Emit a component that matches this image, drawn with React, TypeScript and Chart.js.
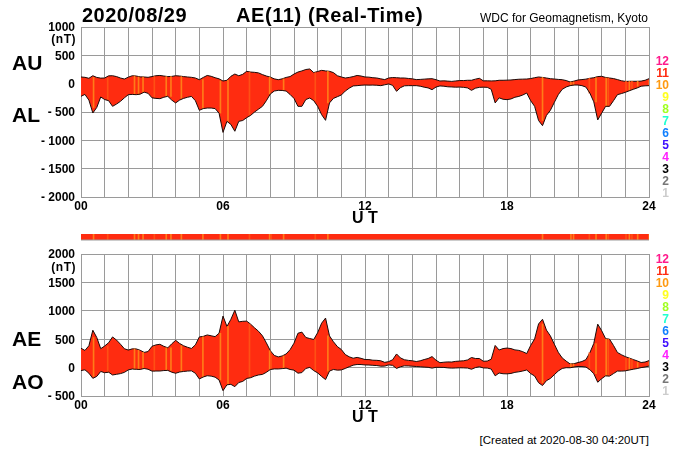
import { useEffect, useRef } from 'react';
import Chart from 'chart.js/auto';

// one value every 10 minutes, 00:00 to 24:00 UT
const AU = [
  118, 112, 95, 140, 110, 98, 100, 138, 140, 125, 100, 82,
  115, 140, 135, 120, 118, 112, 125, 140, 145, 135, 125, 128,
  140, 135, 125, 118, 112, 100, 70, 110, 145, 130, 105, 85,
  47, 60, 130, 170, 140, 165, 218, 205, 200, 190, 160, 135,
  115, 85, 70, 85, 110, 125, 170, 205, 225, 250, 259, 195,
  215, 235, 225, 218, 195, 140, 118, 100, 110, 125, 145, 135,
  118, 115, 105, 100, 85, 72, 100, 108, 105, 100, 100, 92,
  85, 72, 75, 80, 85, 88, 70, 47, 50, 45, 40, 48,
  55, 55, 60, 60, 80, 95, 50, 50, 48, 50, 60, 60,
  62, 65, 72, 78, 80, 82, 90, 105, 118, 110, 100, 88,
  82, 75, 70, 55, 30, 45, 65, 72, 80, 95, 105, 125,
  130, 110, 100, 90, 72, 52, 40, 42, 42, 42, 45, 60,
  88,
];
const AL = [
  -223, -190, -290, -518, -420, -235, -280, -300, -400, -360, -312, -250,
  -194, -190, -194, -185, -150, -170, -250, -260, -265, -240, -223, -290,
  -340, -290, -260, -240, -225, -300, -470, -440, -430, -430, -440, -520,
  -860, -665, -720, -840, -665, -650, -600, -560, -500, -450, -400, -300,
  -182, -130, -118, -120, -130, -190, -260, -400, -400, -280, -253, -300,
  -400, -547, -647, -340, -260, -230, -200, -130, -80, -40, -35, -28,
  -24, -26, -25, -28, -35, -20, -5, -30, -135, -70, -38, -35,
  -35, -35, -45, -62, -75, -106, -60, -40, -45, -55, -58, -62,
  -60, -65, -75, -118, -80, -65, -62, -65, -100, -340, -250, -275,
  -282, -270, -240, -225, -200, -165, -300, -400, -650, -741, -560, -470,
  -330, -194, -100, -59, -35, -24, -24, -35, -60, -165, -320, -640,
  -520, -400, -400, -300, -194, -175, -153, -125, -100, -76, -45, -38,
  -35,
];
const AE = [
  341, 302, 385, 658, 530, 333, 380, 438, 540, 485, 412, 332,
  309, 330, 329, 305, 268, 282, 375, 400, 410, 375, 348, 418,
  480, 425, 385, 358, 337, 400, 540, 550, 575, 560, 545, 605,
  907, 725, 850, 1010, 805, 815, 818, 765, 700, 640, 560, 435,
  297, 215, 188, 205, 240, 315, 430, 605, 625, 530, 512, 495,
  615, 782, 872, 558, 455, 370, 318, 230, 190, 165, 180, 163,
  142, 141, 130, 128, 120, 92, 105, 138, 240, 170, 138, 127,
  120, 107, 120, 142, 160, 194, 130, 87, 95, 100, 98, 110,
  115, 120, 135, 178, 160, 160, 112, 115, 148, 390, 310, 335,
  344, 335, 312, 303, 280, 247, 390, 505, 768, 851, 660, 558,
  412, 269, 170, 114, 65, 69, 89, 107, 140, 260, 425, 765,
  650, 510, 500, 390, 266, 227, 193, 167, 142, 118, 90, 98,
  123,
];
const AO = [
  -52, -39, -98, -189, -155, -68, -90, -81, -130, -118, -106, -84,
  -40, -25, -30, -33, -16, -29, -62, -60, -60, -52, -49, -81,
  -100, -78, -68, -61, -57, -100, -200, -165, -143, -150, -168, -218,
  -406, -303, -295, -335, -263, -243, -191, -178, -150, -130, -120, -83,
  -34, -23, -24, -18, -10, -33, -45, -98, -88, -15, 3, -53,
  -93, -156, -211, -61, -33, -45, -41, -15, 15, 43, 55, 54,
  47, 45, 40, 36, 25, 26, 48, 39, -15, 15, 31, 29,
  25, 19, 15, 9, 5, -9, 5, 4, 3, -5, -9, -7,
  -3, -5, -8, -29, 0, 15, -6, -8, -26, -145, -95, -108,
  -110, -103, -84, -74, -60, -42, -105, -148, -266, -316, -230, -191,
  -124, -60, -15, -2, -3, 11, 21, 19, 10, -35, -108, -258,
  -195, -145, -150, -105, -61, -62, -57, -42, -29, -17, 0, 11,
  27,
];

// minutes where fewer stations reported (hours UT)
const stripeHours = [0.51, 2.24, 2.41, 2.6, 3.58, 3.78, 4.22, 5.13, 5.87, 6.19, 7.95, 8.54, 10.41, 19.48, 20.68, 20.79, 21.74, 22.17, 23.15, 23.5, 23.99];
const faintHours = [1.15, 3.12, 7.14, 8.05, 9.92, 21.5, 22.3, 23.05, 23.3];

const stationLabels = ['12', '11', '10', '9', '8', '7', '6', '5', '4', '3', '2', '1'];
const stationColors = ['#ff1a8c', '#ff2a10', '#ff9a10', '#ffff20', '#a0ff20', '#20ffd0', '#1080ff', '#4010ff', '#ff20ff', '#000000', '#777777', '#cccccc'];

const RED = '#ff2c10';
const ORANGE = '#ff7c18';
const FAINT = '#ff5014';
const GRID = '#9a9a9a';
const FONT = '"Liberation Sans", Arial, sans-serif';

const toPoints = (values: number[]) => values.map((v, i) => ({ x: i / 6, y: v }));

// keep a stripe inside the band drawn between the two 10-minute neighbours
const stripeBars = (hours: number[], upper: number[], lower: number[]) =>
  hours.map((h) => {
    const a = Math.floor(h * 6);
    const b = Math.min(a + 1, upper.length - 1);
    return { x: h, y: [Math.max(lower[a], lower[b]), Math.min(upper[a], upper[b])] };
  });

const stripeDataset = (data: any[], color: string) => ({
  type: 'bar' as const,
  data,
  backgroundColor: color,
  barThickness: 1,
  order: 2,
});

type PanelProps = {
  top: number;
  height: number;
  plotTop: number;
  plotBottom: number;
  upper: number[];
  lower: number[];
  yMin: number;
  yMax: number;
};

const Panel = ({ top, height, plotTop, plotBottom, upper, lower, yMin, yMax }: PanelProps) => {
  const ref = useRef<HTMLCanvasElement>(null);

  useEffect(() => {
    if (!ref.current) return;
    const ctx = ref.current.getContext('2d') as any;
    ctx.letterSpacing = '0.5px'; // tick labels are widely set in the original
    const chart = new Chart(ref.current, {
      type: 'line',
      data: {
        datasets: [
          {
            data: toPoints(upper),
            borderColor: '#1a0a08',
            borderWidth: 1,
            backgroundColor: RED,
            fill: 1,
            pointRadius: 0,
            tension: 0,
            order: 3,
          },
          {
            data: toPoints(lower),
            borderColor: '#1a0a08',
            borderWidth: 1,
            pointRadius: 0,
            tension: 0,
            fill: false,
            order: 1,
          },
          stripeDataset(stripeBars(faintHours, upper, lower), FAINT),
          stripeDataset(stripeBars(stripeHours, upper, lower), ORANGE),
        ] as any,
      },
      options: {
        responsive: false,
        animation: false,
        layout: { padding: { top: plotTop, right: 51, left: 0, bottom: 0 } },
        plugins: { legend: { display: false }, tooltip: { enabled: false } },
        scales: {
          x: {
            type: 'linear',
            min: 0,
            max: 24,
            offset: false,
            afterFit: (s: any) => {
              s.height = height - plotBottom;
            },
            border: { color: GRID },
            grid: { color: GRID, drawTicks: false, offset: false },
            title: {
              display: true,
              text: 'U T',
              color: '#000',
              padding: { top: 0, bottom: 0 },
              font: { family: FONT, size: 16, weight: 'bold' },
            },
            ticks: {
              stepSize: 1,
              autoSkip: false,
              maxRotation: 0,
              padding: 2,
              color: '#000',
              font: { family: FONT, size: 12, weight: 'bold' },
              callback: (v: any) => (v % 6 === 0 ? String(v).padStart(2, '0') : ''),
            },
          },
          y: {
            min: yMin,
            max: yMax,
            afterFit: (s: any) => {
              s.width = 81;
            },
            border: { color: GRID },
            grid: { color: GRID, drawTicks: false },
            ticks: {
              stepSize: 500,
              autoSkip: false,
              padding: 6,
              labelOffset: 1,
              color: '#000',
              font: { family: FONT, size: 12, weight: 'bold' },
              callback: (v: any) => (v < 0 ? `- ${-v}` : String(v)),
            },
          },
        },
      },
    });
    return () => chart.destroy();
  }, []);

  return <canvas ref={ref} width={700} height={height} style={{ position: 'absolute', left: 0, top, width: 700, height }} />;
};

const StationStrip = () => {
  const ref = useRef<HTMLCanvasElement>(null);

  useEffect(() => {
    if (!ref.current) return;
    const span = (y: number) => [{ x: 0, y }, { x: 24, y }];
    const bars = (hours: number[]) => hours.map((h) => ({ x: h, y: [0, 1] }));
    const chart = new Chart(ref.current, {
      type: 'line',
      data: {
        datasets: [
          { data: span(1), borderWidth: 0, backgroundColor: RED, fill: 'origin', pointRadius: 0, order: 3 },
          { data: span(0), borderColor: GRID, borderWidth: 1, pointRadius: 0, fill: false, clip: false, order: 1 },
          stripeDataset(bars(faintHours), FAINT),
          stripeDataset(bars(stripeHours), ORANGE),
        ] as any,
      },
      options: {
        responsive: false,
        animation: false,
        layout: { padding: { top: 4, right: 51, left: 81, bottom: 5 } },
        plugins: { legend: { display: false }, tooltip: { enabled: false } },
        scales: {
          x: { type: 'linear', min: 0, max: 24, offset: false, display: false },
          y: { min: 0, max: 1, display: false },
        },
      },
    });
    return () => chart.destroy();
  }, []);

  return <canvas ref={ref} width={700} height={15} style={{ position: 'absolute', left: 0, top: 230, width: 700, height: 15 }} />;
};

const Label = ({ x, y, size, text, right, weight = 'bold', color = '#000', spacing = 0 }: any) => (
  <div
    style={{
      position: 'absolute',
      top: y - size,
      height: size * 2,
      lineHeight: `${size * 2}px`,
      left: right ? undefined : x,
      right: right ? 700 - x : undefined,
      fontFamily: FONT,
      fontSize: size,
      fontWeight: weight,
      color,
      letterSpacing: spacing,
      whiteSpace: 'pre',
    }}
  >
    {text}
  </div>
);

const StationKey = ({ top }: { top: number }) => (
  <>
    {stationLabels.map((label, i) => (
      <Label key={label} x={669} y={top + i * 12} size={12} text={label} color={stationColors[i]} right />
    ))}
  </>
);

export default function App() {
  return (
    <div style={{ position: 'absolute', left: 0, top: 0, width: 700, height: 450, background: '#fff', overflow: 'hidden' }}>
      <Panel top={0} height={228} plotTop={27} plotBottom={197} upper={AU} lower={AL} yMin={-2000} yMax={1000} />
      <StationStrip />
      <Panel top={226} height={201} plotTop={28} plotBottom={170} upper={AE} lower={AO} yMin={-500} yMax={2000} />

      <Label x={82} y={15} size={20} text="2020/08/29" spacing={0.5} />
      <Label x={236} y={15} size={20} text="AE(11) (Real-Time)" spacing={0.6} />
      <Label x={648} y={18} size={12} text="WDC for Geomagnetism, Kyoto" weight="normal" right />
      <Label x={76} y={39} size={12} text="(nT)" right spacing={0.5} />
      <Label x={76} y={267} size={12} text="(nT)" right spacing={0.5} />
      <Label x={12} y={63} size={21} text="AU" />
      <Label x={12} y={115} size={21} text="AL" />
      <Label x={12} y={339} size={21} text="AE" />
      <Label x={12} y={382} size={21} text="AO" />
      <StationKey top={61} />
      <StationKey top={259} />
      <Label x={649} y={440} size={11.5} text="[Created at 2020-08-30 04:20UT]" weight="normal" right />
    </div>
  );
}
